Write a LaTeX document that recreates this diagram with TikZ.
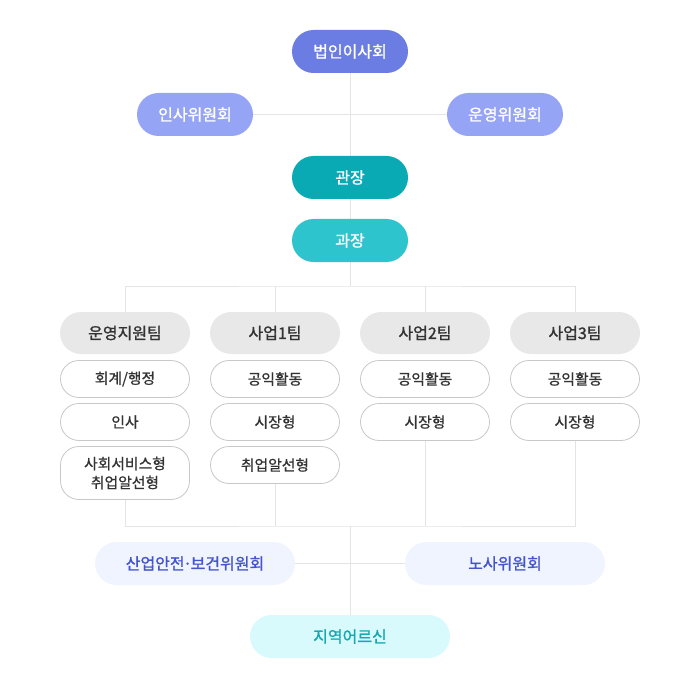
\documentclass[tikz,border=0pt]{standalone}
\usepackage{fontspec}
\setmainfont{Noto Sans CJK KR}
\newfontfamily\medf[FakeBold=1.2]{Noto Sans CJK KR}
\newfontfamily\semf[FakeBold=0.8]{Noto Sans CJK KR}
\usetikzlibrary{backgrounds}
\definecolor{cTop}{RGB}{107,125,227}
\definecolor{cCom}{RGB}{150,164,245}
\definecolor{cGwan}{RGB}{10,170,180}
\definecolor{cGwa}{RGB}{46,196,206}
\definecolor{cHead}{RGB}{232,232,232}
\definecolor{cTxt}{RGB}{51,51,51}
\definecolor{cBord}{RGB}{200,200,200}
\definecolor{cLine}{RGB}{228,228,228}
\definecolor{cLow}{RGB}{240,244,255}
\definecolor{cLowT}{RGB}{68,85,204}
\definecolor{cOld}{RGB}{216,250,252}
\definecolor{cOldT}{RGB}{20,168,178}
\begin{document}
\begin{tikzpicture}[x=1pt,y=-1pt,
  pill/.style={rectangle,inner sep=0pt,minimum width=116pt,minimum height=43pt,rounded corners=21.5pt,font=\medf\fontsize{16}{18}\selectfont,text=white},
  head/.style={rectangle,inner sep=0pt,minimum width=130pt,minimum height=42pt,rounded corners=21pt,fill=cHead,text=cTxt,font=\medf\fontsize{16}{18}\selectfont},
  item/.style={rectangle,inner sep=0pt,minimum width=129pt,minimum height=37pt,rounded corners=18.5pt,draw=cBord,line width=0.8pt,fill=white,text=cTxt,font=\semf\fontsize{14.8}{19}\selectfont,align=center},
  low/.style={rectangle,inner sep=0pt,minimum width=200pt,minimum height=43pt,rounded corners=21.5pt,font=\medf\fontsize{16}{18}\selectfont},
  conn/.style={draw=cLine,line width=1pt}]
\useasboundingbox (0,0) rectangle (700,700);
% top
\node[pill,fill=cTop] (board) at (350,51.5) {법인이사회};
\node[pill,fill=cCom] (hr) at (195,114.5) {인사위원회};
\node[pill,fill=cCom] (op) at (505,114.5) {운영위원회};
\node[pill,fill=cGwan] (gwan) at (350,177.5) {관장};
\node[pill,fill=cGwa] (gwa) at (350,240.5) {과장};
% teams
\node[head] (t1) at (125,333) {운영지원팀};
\node[head] (t2) at (275,333) {사업1팀};
\node[head] (t3) at (425,333) {사업2팀};
\node[head] (t4) at (575,333) {사업3팀};
\node[item] (a1) at (125,379) {회계/행정};
\node[item] (a2) at (125,422) {인사};
\node[item,minimum height=53pt] (a3) at (125,473) {사회서비스형\\취업알선형};
\node[item] (b1) at (275,379) {공익활동};
\node[item] (b2) at (275,422) {시장형};
\node[item] (b3) at (275,465) {취업알선형};
\node[item] (c1) at (425,379) {공익활동};
\node[item] (c2) at (425,422) {시장형};
\node[item] (d1) at (575,379) {공익활동};
\node[item] (d2) at (575,422) {시장형};
% bottom
\node[low,fill=cLow,text=cLowT] (safe) at (195,563.5) {산업안전{\kern-1.5pt}·{\kern-1.5pt}보건위원회};
\node[low,fill=cLow,text=cLowT] (labor) at (505,563.5) {노사위원회};
\node[low,fill=cOld,text=cOldT] (elder) at (350,636.5) {지역어르신};
\coordinate (bus1) at (350,286);
\coordinate (bus2) at (350,526);
\begin{scope}[on background layer]
\draw[conn] (board.south) -- (gwan.north);
\draw[conn] (hr.east) -- (op.west);
\draw[conn] (gwan.south) -- (gwa.north);
\draw[conn] (gwa.south) -- (bus1);
\draw[conn] (t1.north) |- (bus1) -| (t4.north);
\draw[conn] (t2.north) -- (t2.north |- bus1);
\draw[conn] (t3.north) -- (t3.north |- bus1);
\draw[conn] (a3.south) |- (bus2) -| (d2.south);
\draw[conn] (b3.south) -- (b3.south |- bus2);
\draw[conn] (c2.south) -- (c2.south |- bus2);
\draw[conn] (bus2) -- (elder.north);
\draw[conn] (safe.east) -- (labor.west);
\end{scope}
\end{tikzpicture}
\end{document}
